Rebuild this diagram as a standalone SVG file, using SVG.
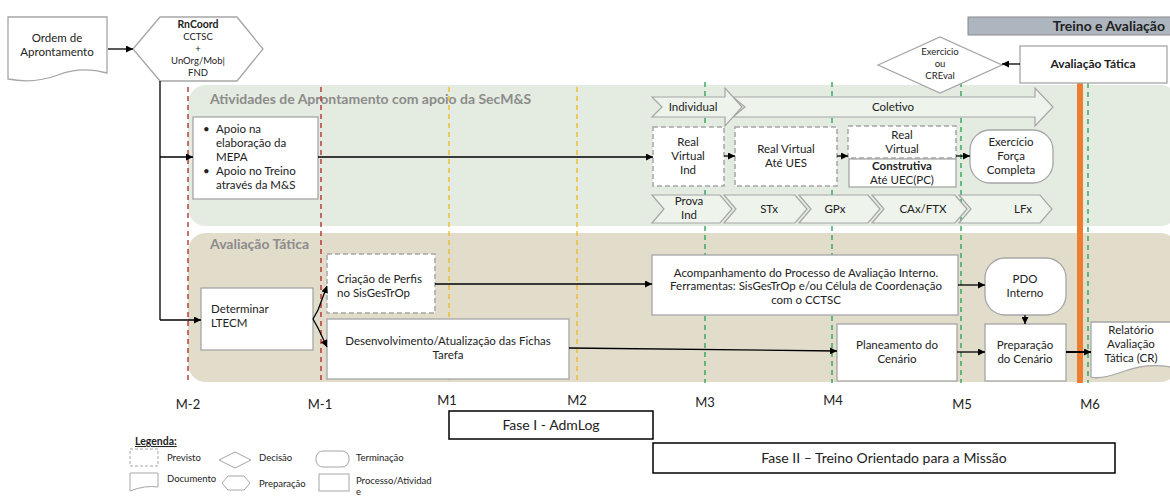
<svg xmlns="http://www.w3.org/2000/svg" width="1170" height="496" viewBox="0 0 1170 496">
<defs>
<marker id="ah" viewBox="0 0 10 10" refX="10" refY="5" markerWidth="7" markerHeight="7" markerUnits="userSpaceOnUse" orient="auto"><path d="M0,0 L10,5 L0,10 Z" fill="#000"/></marker>
<style>
text{font-family:Lato,"Open Sans","Liberation Sans",sans-serif;fill:#222;}
.t{font-size:11.5px;text-anchor:middle;}
.tl{font-size:11.5px;}
.s{font-size:9.5px;text-anchor:middle;}
.lg{font-size:9.5px;}
.b{font-weight:bold;}
.m{font-size:13px;text-anchor:middle;}
.band{font-size:14px;font-weight:bold;fill:#8c8c8c;}
.box{fill:#fff;stroke:#a6a6a6;stroke-width:1.3;}
.dbox{fill:#fff;stroke:#a6a6a6;stroke-width:1.5;stroke-dasharray:5,3;}
.chev{fill:#eef3ec;stroke:#a6a6a6;stroke-width:1.2;}
.ln{fill:none;stroke:#000;stroke-width:1.3;}
.red{stroke:#b02424;stroke-width:1.3;stroke-dasharray:5,4;}
.yel{stroke:#f0b820;stroke-width:1.3;stroke-dasharray:5,4;}
.grn{stroke:#22a050;stroke-width:1.3;stroke-dasharray:5,4;}
</style>
</defs>
<rect width="1170" height="496" fill="#fff"/>

<g id="bands">
<rect x="188" y="85" width="990" height="141" rx="18" fill="#e4ebe0"/>
<rect x="188" y="233" width="990" height="149" rx="18" fill="#e2dccb"/>
<text class="band" x="210" y="104">Atividades de Aprontamento com apoio da SecM&amp;S</text>
<text class="band" x="210" y="249">Avaliação Tática</text>
</g>

<g id="timeline">
<line class="red" x1="188" y1="87" x2="188" y2="383"/>
<line class="red" x1="321" y1="87" x2="321" y2="383"/>
<line class="yel" x1="449" y1="87" x2="449" y2="383"/>
<line class="yel" x1="577" y1="87" x2="577" y2="383"/>
<line class="grn" x1="705" y1="82" x2="705" y2="383"/>
<line class="grn" x1="832" y1="82" x2="832" y2="383"/>
<line class="grn" x1="961" y1="82" x2="961" y2="383"/>
<line x1="1080" y1="83" x2="1080" y2="383" stroke="#ed7d31" stroke-width="6"/>
<line class="grn" x1="1088" y1="83" x2="1088" y2="383"/>
<text class="m" x="188" y="409">M-2</text>
<text class="m" x="320" y="409">M-1</text>
<text class="m" x="447" y="405">M1</text>
<text class="m" x="577" y="405">M2</text>
<text class="m" x="705" y="407">M3</text>
<text class="m" x="833" y="405">M4</text>
<text class="m" x="962" y="409">M5</text>
<text class="m" x="1090" y="409">M6</text>
</g>

<g id="phase-arrows">
<polygon class="chev" points="733,97 1035,97 1035,88 1053,107 1035,126 1035,117 733,117 745,107"/>
<polygon class="chev" points="652,97 725,97 725,88 742,107 725,126 725,117 652,117 662,107"/>
<text class="t" x="693" y="111">Individual</text>
<text class="t" x="893" y="111">Coletivo</text>
<polygon class="chev" points="652,195 720,195 732,209 720,223 652,223 664,209"/>
<polygon class="chev" points="724,195 795,195 807,209 795,223 724,223 736,209"/>
<polygon class="chev" points="799,195 868,195 880,209 868,223 799,223 811,209"/>
<polygon class="chev" points="872,195 955,195 967,209 955,223 872,223 884,209"/>
<polygon class="chev" points="959,195 1040,195 1052,209 1040,223 959,223 971,209"/>
<text class="t" x="689" y="205">Prova</text>
<text class="t" x="689" y="219">Ind</text>
<text class="t" x="769" y="213">STx</text>
<text class="t" x="835" y="213">GPx</text>
<text class="t" x="923" y="213">CAx/FTX</text>
<text class="t" x="1023" y="213">LFx</text>
</g>

<g id="ordem">
<path class="box" d="M8,17 H107 V73 Q82,66 58,75 T8,79 Z"/>
<text class="t" x="57" y="42">Ordem de</text>
<text class="t" x="57" y="56">Aprontamento</text>
</g>

<g id="rncoord">
<polygon class="box" points="133,49 160,17 237,17 263,49 237,81 160,81"/>
<text class="s b" x="198" y="28" style="font-size:10.5px">RnCoord</text>
<text class="s" x="198" y="40">CCTSC</text>
<text class="s" x="198" y="52">+</text>
<text class="s" x="198" y="64">UnOrg/Mob|</text>
<text class="s" x="198" y="76">FND</text>
</g>

<g id="treino-avaliacao">
<rect x="968" y="17" width="210" height="18" fill="#adb5bf" stroke="#8a8a8a"/>
<text x="1165" y="31" style="font-size:14px;font-weight:bold;text-anchor:end">Treino e Avaliação</text>
</g>

<g id="avaliacao-tatica-top">
<rect class="box" x="1020" y="46" width="147" height="37"/>
<text class="t b" x="1093" y="68" style="font-size:12px">Avaliação Tática</text>
</g>

<g id="exercicio-creval">
<polygon class="box" points="878,65 940,37 1002,65 940,93"/>
<text class="s" x="940" y="55">Exercicio</text>
<text class="s" x="940" y="67">ou</text>
<text class="s" x="940" y="79">CREval</text>
</g>

<g id="apoio">
<rect class="box" x="193" y="117" width="125" height="82"/>
<text class="tl" x="203" y="133">•</text>
<text class="tl" x="216" y="133">Apoio na</text>
<text class="tl" x="216" y="147">elaboração da</text>
<text class="tl" x="216" y="161">MEPA</text>
<text class="tl" x="203" y="175">•</text>
<text class="tl" x="216" y="175">Apoio no Treino</text>
<text class="tl" x="216" y="189">através da M&amp;S</text>
</g>

<g id="real-virtual-ind">
<rect class="dbox" x="653" y="127" width="71" height="59"/>
<text class="t" x="688" y="146">Real</text>
<text class="t" x="688" y="160">Virtual</text>
<text class="t" x="688" y="174">Ind</text>
</g>

<g id="real-virtual-ues">
<rect class="dbox" x="735" y="127" width="102" height="59"/>
<text class="t" x="786" y="153">Real Virtual</text>
<text class="t" x="786" y="167">Até UES</text>
</g>

<g id="real-virtual-uec">
<rect class="dbox" x="848" y="126" width="108" height="32"/>
<text class="t" x="902" y="139">Real</text>
<text class="t" x="902" y="153">Virtual</text>
<rect class="box" x="849" y="159" width="107" height="28"/>
<text class="t b" x="902" y="170">Construtiva</text>
<text class="t" x="902" y="184">Até UEC(PC)</text>
</g>

<g id="exercicio-forca">
<rect class="box" x="970" y="130" width="83" height="53" rx="20"/>
<text class="t" x="1011" y="146">Exercício</text>
<text class="t" x="1011" y="160">Força</text>
<text class="t" x="1011" y="174">Completa</text>
</g>

<g id="determinar">
<rect class="box" x="201" y="288" width="112" height="62"/>
<text class="tl" x="211" y="313">Determinar</text>
<text class="tl" x="211" y="327">LTECM</text>
</g>

<g id="criacao">
<rect class="dbox" x="327" y="254" width="108" height="59"/>
<text class="tl" x="337" y="283">Criação de Perfis</text>
<text class="tl" x="337" y="297">no SisGesTrOp</text>
</g>

<g id="desenvolvimento">
<rect class="box" x="327" y="319" width="242" height="60"/>
<text class="t" x="448" y="345">Desenvolvimento/Atualização das Fichas</text>
<text class="t" x="448" y="359">Tarefa</text>
</g>

<g id="acompanhamento">
<rect class="box" x="652" y="255" width="306" height="60"/>
<text class="t" x="806" y="277">Acompanhamento do Processo de Avaliação Interno.</text>
<text class="t" x="806" y="290">Ferramentas: SisGesTrOp e/ou Célula de Coordenação</text>
<text class="t" x="806" y="304">com o CCTSC</text>
</g>

<g id="pdo">
<rect class="box" x="985" y="258" width="81" height="57" rx="20"/>
<text class="t" x="1025" y="283">PDO</text>
<text class="t" x="1025" y="297">Interno</text>
</g>

<g id="planeamento">
<rect class="box" x="837" y="324" width="120" height="57"/>
<text class="t" x="897" y="349">Planeamento do</text>
<text class="t" x="897" y="363">Cenário</text>
</g>

<g id="preparacao">
<rect class="box" x="985" y="324" width="81" height="57"/>
<text class="t" x="1025" y="349">Preparação</text>
<text class="t" x="1025" y="363">do Cenário</text>
</g>

<g id="relatorio">
<path class="box" d="M1091,322 H1176 V368 Q1150,362 1125,371 T1091,377 Z"/>
<text class="t" x="1131" y="334">Relatório</text>
<text class="t" x="1131" y="348">Avaliação</text>
<text class="t" x="1131" y="362">Tática (CR)</text>
</g>

<g id="connectors">
<line class="ln" x1="108" y1="49" x2="133" y2="49" marker-end="url(#ah)"/>
<line class="ln" x1="160" y1="81" x2="160" y2="320"/>
<line class="ln" x1="160" y1="157" x2="193" y2="157" marker-end="url(#ah)"/>
<line class="ln" x1="160" y1="320" x2="201" y2="320" marker-end="url(#ah)"/>
<line class="ln" x1="318" y1="157" x2="653" y2="157" marker-end="url(#ah)"/>
<line class="ln" x1="724" y1="156" x2="735" y2="156" marker-end="url(#ah)"/>
<line class="ln" x1="837" y1="156" x2="848" y2="156" marker-end="url(#ah)"/>
<line class="ln" x1="956" y1="156" x2="970" y2="156" marker-end="url(#ah)"/>
<line class="ln" x1="1020" y1="64" x2="1002" y2="64" marker-end="url(#ah)"/>
<polyline class="ln" points="313,319 318,310 327,286" marker-end="url(#ah)"/>
<polyline class="ln" points="313,319 318,328 327,347" marker-end="url(#ah)"/>
<line class="ln" x1="435" y1="284" x2="652" y2="284" marker-end="url(#ah)"/>
<line class="ln" x1="569" y1="348" x2="837" y2="351" marker-end="url(#ah)"/>
<line class="ln" x1="958" y1="285" x2="985" y2="285" marker-end="url(#ah)"/>
<line class="ln" x1="1025" y1="315" x2="1025" y2="324" marker-end="url(#ah)"/>
<line class="ln" x1="957" y1="352" x2="985" y2="352" marker-end="url(#ah)"/>
<line class="ln" x1="1066" y1="352" x2="1091" y2="352" marker-end="url(#ah)" style="stroke-width:2"/>
</g>

<g id="fases">
<rect x="449" y="411" width="204" height="28" fill="#fff" stroke="#000" stroke-width="1.5"/>
<text x="551" y="430" style="font-size:14px;text-anchor:middle">Fase I - AdmLog</text>
<rect x="653" y="443" width="462" height="30" fill="#fff" stroke="#000" stroke-width="1.5"/>
<text x="884" y="463" style="font-size:14px;text-anchor:middle">Fase II – Treino Orientado para a Missão</text>
</g>

<g id="legenda">
<text class="lg b" x="135" y="445" style="text-decoration:underline;font-size:10.5px">Legenda:</text>
<rect x="130" y="449" width="28" height="17" fill="#fff" stroke="#a6a6a6" stroke-dasharray="3,2"/>
<text class="lg" x="167" y="461">Previsto</text>
<polygon points="219,460 235,452 251,460 235,468" fill="#fff" stroke="#a6a6a6"/>
<text class="lg" x="259" y="461">Decisão</text>
<rect x="316" y="451" width="33" height="16" rx="7" fill="#fff" stroke="#a6a6a6"/>
<text class="lg" x="356" y="461">Terminação</text>
<path d="M130,473 H158 V487 Q145,485 130,491 Z" fill="#fff" stroke="#a6a6a6"/>
<text class="lg" x="167" y="482">Documento</text>
<polygon points="222,483 228,476 244,476 250,483 244,490 228,490" fill="#fff" stroke="#a6a6a6"/>
<text class="lg" x="259" y="487">Preparação</text>
<rect x="319" y="474" width="30" height="17" fill="#fff" stroke="#a6a6a6"/>
<text class="lg" x="356" y="484">Processo/Atividad</text>
<text class="lg" x="356" y="495">e</text>
</g>
</svg>
